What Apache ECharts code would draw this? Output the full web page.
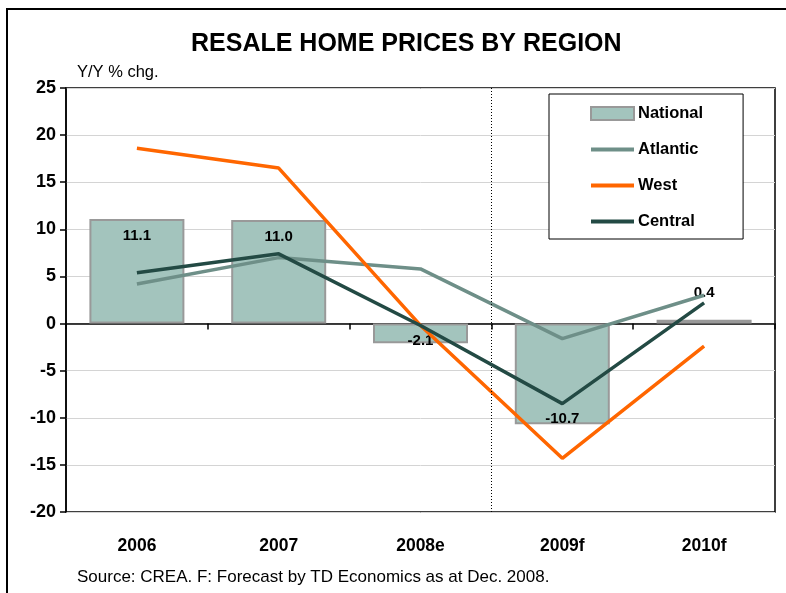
<!DOCTYPE html>
<html>
<head>
<meta charset="utf-8">
<script src="https://cdn.jsdelivr.net/npm/echarts@6/dist/echarts.min.js"></script>
<style>
html,body{margin:0;padding:0;background:#fff;overflow:hidden;}
#frame{position:absolute;left:6px;top:8px;width:900px;height:700px;border-left:2px solid #000;border-top:2px solid #000;}
#chart{position:absolute;left:0;top:0;width:786px;height:593px;}
</style>
</head>
<body>
<div id="frame"></div>
<div id="chart"></div>
<script>
const categories = ['2006', '2007', '2008e', '2009f', '2010f'];
const national = [11.1, 11.0, -2.1, -10.7, 0.4];
const atlantic = [4.2, 7.0, 5.8, -1.6, 3.0];
const west = [18.6, 16.5, -0.2, -14.3, -2.4];
const central = [5.4, 7.4, -0.2, -8.5, 2.2];
const yTicks = [-20, -15, -10, -5, 0, 5, 10, 15, 20, 25];
const forecastDivider = 3;

const chart = echarts.init(document.getElementById('chart'));
const font = 'Liberation Sans, Arial, sans-serif';

const labelPositions = ['insideTop', 'insideTop', 'insideBottom', 'insideBottom', 'top'];
const labelOffsets = [[0, 4], [0, 4], [0, 10], [0, 7], [0, -14]];

chart.setOption({
  animation: false,
  title: {
    text: 'RESALE HOME PRICES BY REGION',
    left: 186, top: 27,
    textStyle: { fontFamily: font, fontSize: 25, fontWeight: 'bold', color: '#000' }
  },
  graphic: [
    { type: 'text', left: 77, top: 64, style: { text: 'Y/Y % chg.', font: '16.5px ' + font, fill: '#000' } },
    { type: 'text', left: 77, top: 569, style: { text: 'Source: CREA. F: Forecast by TD Economics as at Dec. 2008.', font: '17px ' + font, fill: '#000' } }
  ],
  legend: {
    orient: 'vertical', left: 549, top: 94,
    backgroundColor: '#fff', borderColor: '#000', borderWidth: 1,
    padding: [11, 40, 9, 40],
    itemWidth: 43, itemHeight: 13, itemGap: 19,
    textStyle: { fontFamily: font, fontSize: 16.5, fontWeight: 'bold', color: '#000', padding: [0, 0, 0, -1] },
    data: [
      { name: 'National', icon: 'rect', itemStyle: { color: '#a3c4bd', borderColor: '#999999', borderWidth: 2 } },
      { name: 'Atlantic', itemStyle: { opacity: 0 }, lineStyle: { width: 4 } },
      { name: 'West', itemStyle: { opacity: 0 }, lineStyle: { width: 4 } },
      { name: 'Central', itemStyle: { opacity: 0 }, lineStyle: { width: 4 } }
    ]
  },
  grid: {
    left: 66, right: 11, top: 88, bottom: 81,
    show: true, borderColor: '#000', borderWidth: 1.5, backgroundColor: 'transparent'
  },
  xAxis: [
    {
      type: 'category', data: categories,
      axisLine: { onZero: false, show: false },
      axisTick: { show: false },
      axisLabel: { margin: 25, fontFamily: font, fontSize: 17.5, fontWeight: 'bold', color: '#000' }
    },
    {
      type: 'category', data: categories, position: 'bottom',
      axisLine: { onZero: true, lineStyle: { color: '#000', width: 1.5 } },
      axisTick: { show: true, length: 6, inside: false, lineStyle: { color: '#000', width: 1.5 } },
      axisLabel: { show: false }
    },
    {
      type: 'value', min: 0, max: categories.length, show: false
    }
  ],
  yAxis: {
    type: 'value', min: yTicks[0], max: yTicks[yTicks.length - 1], interval: 5,
    axisLine: { show: true, lineStyle: { color: '#000', width: 1.5 } },
    axisTick: { show: true, length: 6, lineStyle: { color: '#000', width: 1.5 } },
    axisLabel: { margin: 10, fontFamily: font, fontSize: 18, fontWeight: 'bold', color: '#000' },
    splitLine: { show: true, lineStyle: { color: '#d4d4d4', width: 1 } }
  },
  series: [
    {
      name: 'National', type: 'bar', barWidth: '67%', xAxisIndex: 0,
      itemStyle: { color: '#a3c4bd', borderColor: '#999999', borderWidth: 2 },
      data: national.map((v, i) => ({
        value: v,
        label: { show: true, position: labelPositions[i], offset: labelOffsets[i],
          formatter: v.toFixed(1), fontFamily: font, fontSize: 15, fontWeight: 'bold', color: '#000' }
      })),
      z: 2
    },
    {
      name: 'Atlantic', type: 'line', xAxisIndex: 0, symbol: 'none', data: atlantic,
      lineStyle: { color: '#6e8f88', width: 3.5 }, itemStyle: { color: '#6e8f88' }, z: 3
    },
    {
      name: 'West', type: 'line', xAxisIndex: 0, symbol: 'none', data: west,
      lineStyle: { color: '#ff6600', width: 3.5 }, itemStyle: { color: '#ff6600' }, z: 4
    },
    {
      name: 'Central', type: 'line', xAxisIndex: 0, symbol: 'none', data: central,
      lineStyle: { color: '#234a44', width: 3.5 }, itemStyle: { color: '#234a44' }, z: 5
    },
    {
      type: 'line', xAxisIndex: 2, data: [], silent: true,
      markLine: {
        symbol: 'none', silent: true, label: { show: false },
        lineStyle: { color: '#000', type: [1, 2], width: 1 },
        data: [{ xAxis: forecastDivider }]
      }
    }
  ]
});
</script>
</body>
</html>
